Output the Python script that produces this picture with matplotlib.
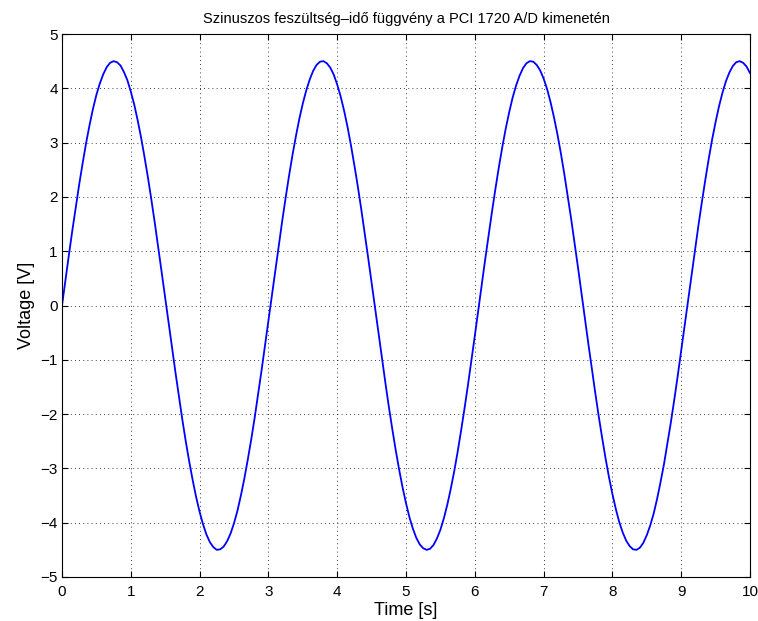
import matplotlib
matplotlib.use("Agg")
import matplotlib.pyplot as plt

plt.rcParams['font.family'] = ['Liberation Sans', 'DejaVu Sans']

# voltage every 0.1 s (t = 0.0 ... 10.0)
time_full = [round(0.1 * i, 2) for i in range(101)]
voltage_full = [
    0.00, 0.93, 1.81, 2.62, 3.32, 3.88, 4.26, 4.47, 4.48, 4.30,
    3.94, 3.41, 2.73, 1.94, 1.06, 0.14, -0.79, -1.68, -2.51, -3.22,
    -3.80, -4.22, -4.45, -4.49, -4.34, -4.01, -3.50, -2.84, -2.07, -1.20,
    -0.28, 0.65, 1.55, 2.39, 3.12, 3.72, 4.16, 4.43, 4.50, 4.38,
    4.07, 3.59, 2.95, 2.19, 1.33, 0.42, -0.51, -1.42, -2.27, -3.02,
    -3.64, -4.11, -4.40, -4.50, -4.41, -4.13, -3.67, -3.06, -2.31, -1.47,
    -0.56, 0.37, 1.29, 2.15, 2.92, 3.56, 4.05, 4.37, 4.50, 4.43,
    4.18, 3.75, 3.16, 2.43, 1.60, 0.70, -0.23, -1.15, -2.03, -2.81,
    -3.47, -3.99, -4.33, -4.49, -4.46, -4.23, -3.83, -3.25, -2.54, -1.73,
    -0.83, 0.09, 1.02, 1.90, 2.70, 3.38, 3.92, 4.29, 4.48, 4.47,
    4.28,
]
# voltage read at the midpoints (t = 0.05 ... 9.95)
time_half = [round(0.1 * i + 0.05, 2) for i in range(100)]
voltage_half = [
    0.47, 1.38, 2.23, 2.99, 3.62, 4.09, 4.39, 4.50, 4.42, 4.15,
    3.70, 3.09, 2.35, 1.51, 0.60, -0.33, -1.24, -2.11, -2.88, -3.53,
    -4.03, -4.36, -4.50, -4.44, -4.20, -3.78, -3.19, -2.47, -1.64, -0.74,
    0.19, 1.11, 1.98, 2.77, 3.44, 3.96, 4.32, 4.49, 4.46, 4.25,
    3.85, 3.29, 2.58, 1.77, 0.88, -0.05, -0.97, -1.86, -2.66, -3.35,
    -3.90, -4.28, -4.47, -4.48, -4.29, -3.92, -3.38, -2.70, -1.90, -1.02,
    -0.09, 0.84, 1.73, 2.55, 3.26, 3.83, 4.23, 4.46, 4.49, 4.33,
    3.99, 3.47, 2.81, 2.02, 1.15, 0.23, -0.70, -1.60, -2.43, -3.16,
    -3.75, -4.18, -4.43, -4.50, -4.37, -4.05, -3.56, -2.92, -2.15, -1.29,
    -0.37, 0.56, 1.47, 2.31, 3.06, 3.67, 4.13, 4.41, 4.50, 4.40,
]
x_ticks = [0, 1, 2, 3, 4, 5, 6, 7, 8, 9, 10]
y_ticks = [-5, -4, -3, -2, -1, 0, 1, 2, 3, 4, 5]
title = "Szinuszos feszültség\u2013idő függvény a PCI 1720 A/D kimenetén"

pairs = sorted(zip(time_full + time_half, voltage_full + voltage_half))
time_s = [p[0] for p in pairs]
voltage_v = [p[1] for p in pairs]

fig = plt.figure(figsize=(7.58, 6.21), dpi=100)
ax = fig.add_axes([62 / 758, 1 - 577 / 621, (750 - 62) / 758, (577 - 34) / 621])
ax.plot(time_s, voltage_v, color=(0, 0, 1), lw=1.3)
ax.set_xlim(0, 10)
ax.set_ylim(-5, 5)
ax.set_xticks(x_ticks)
ax.set_yticks(y_ticks)
ax.grid(True, color='black', linestyle=(0, (1, 4)), linewidth=0.6)
ax.tick_params(direction='in', top=True, right=True, length=4, width=0.8,
               labelsize=11, pad=3, colors='black')
ax.tick_params(axis='x', pad=6)
for s in ax.spines.values():
    s.set_linewidth(0.8)
ax.set_xlabel("Time [s]", fontsize=13, labelpad=2)
ax.set_ylabel("Voltage [V]", fontsize=13, labelpad=4)
ax.set_title(title, fontsize=10.5, pad=8)
fig.savefig("out.png", dpi=100)
